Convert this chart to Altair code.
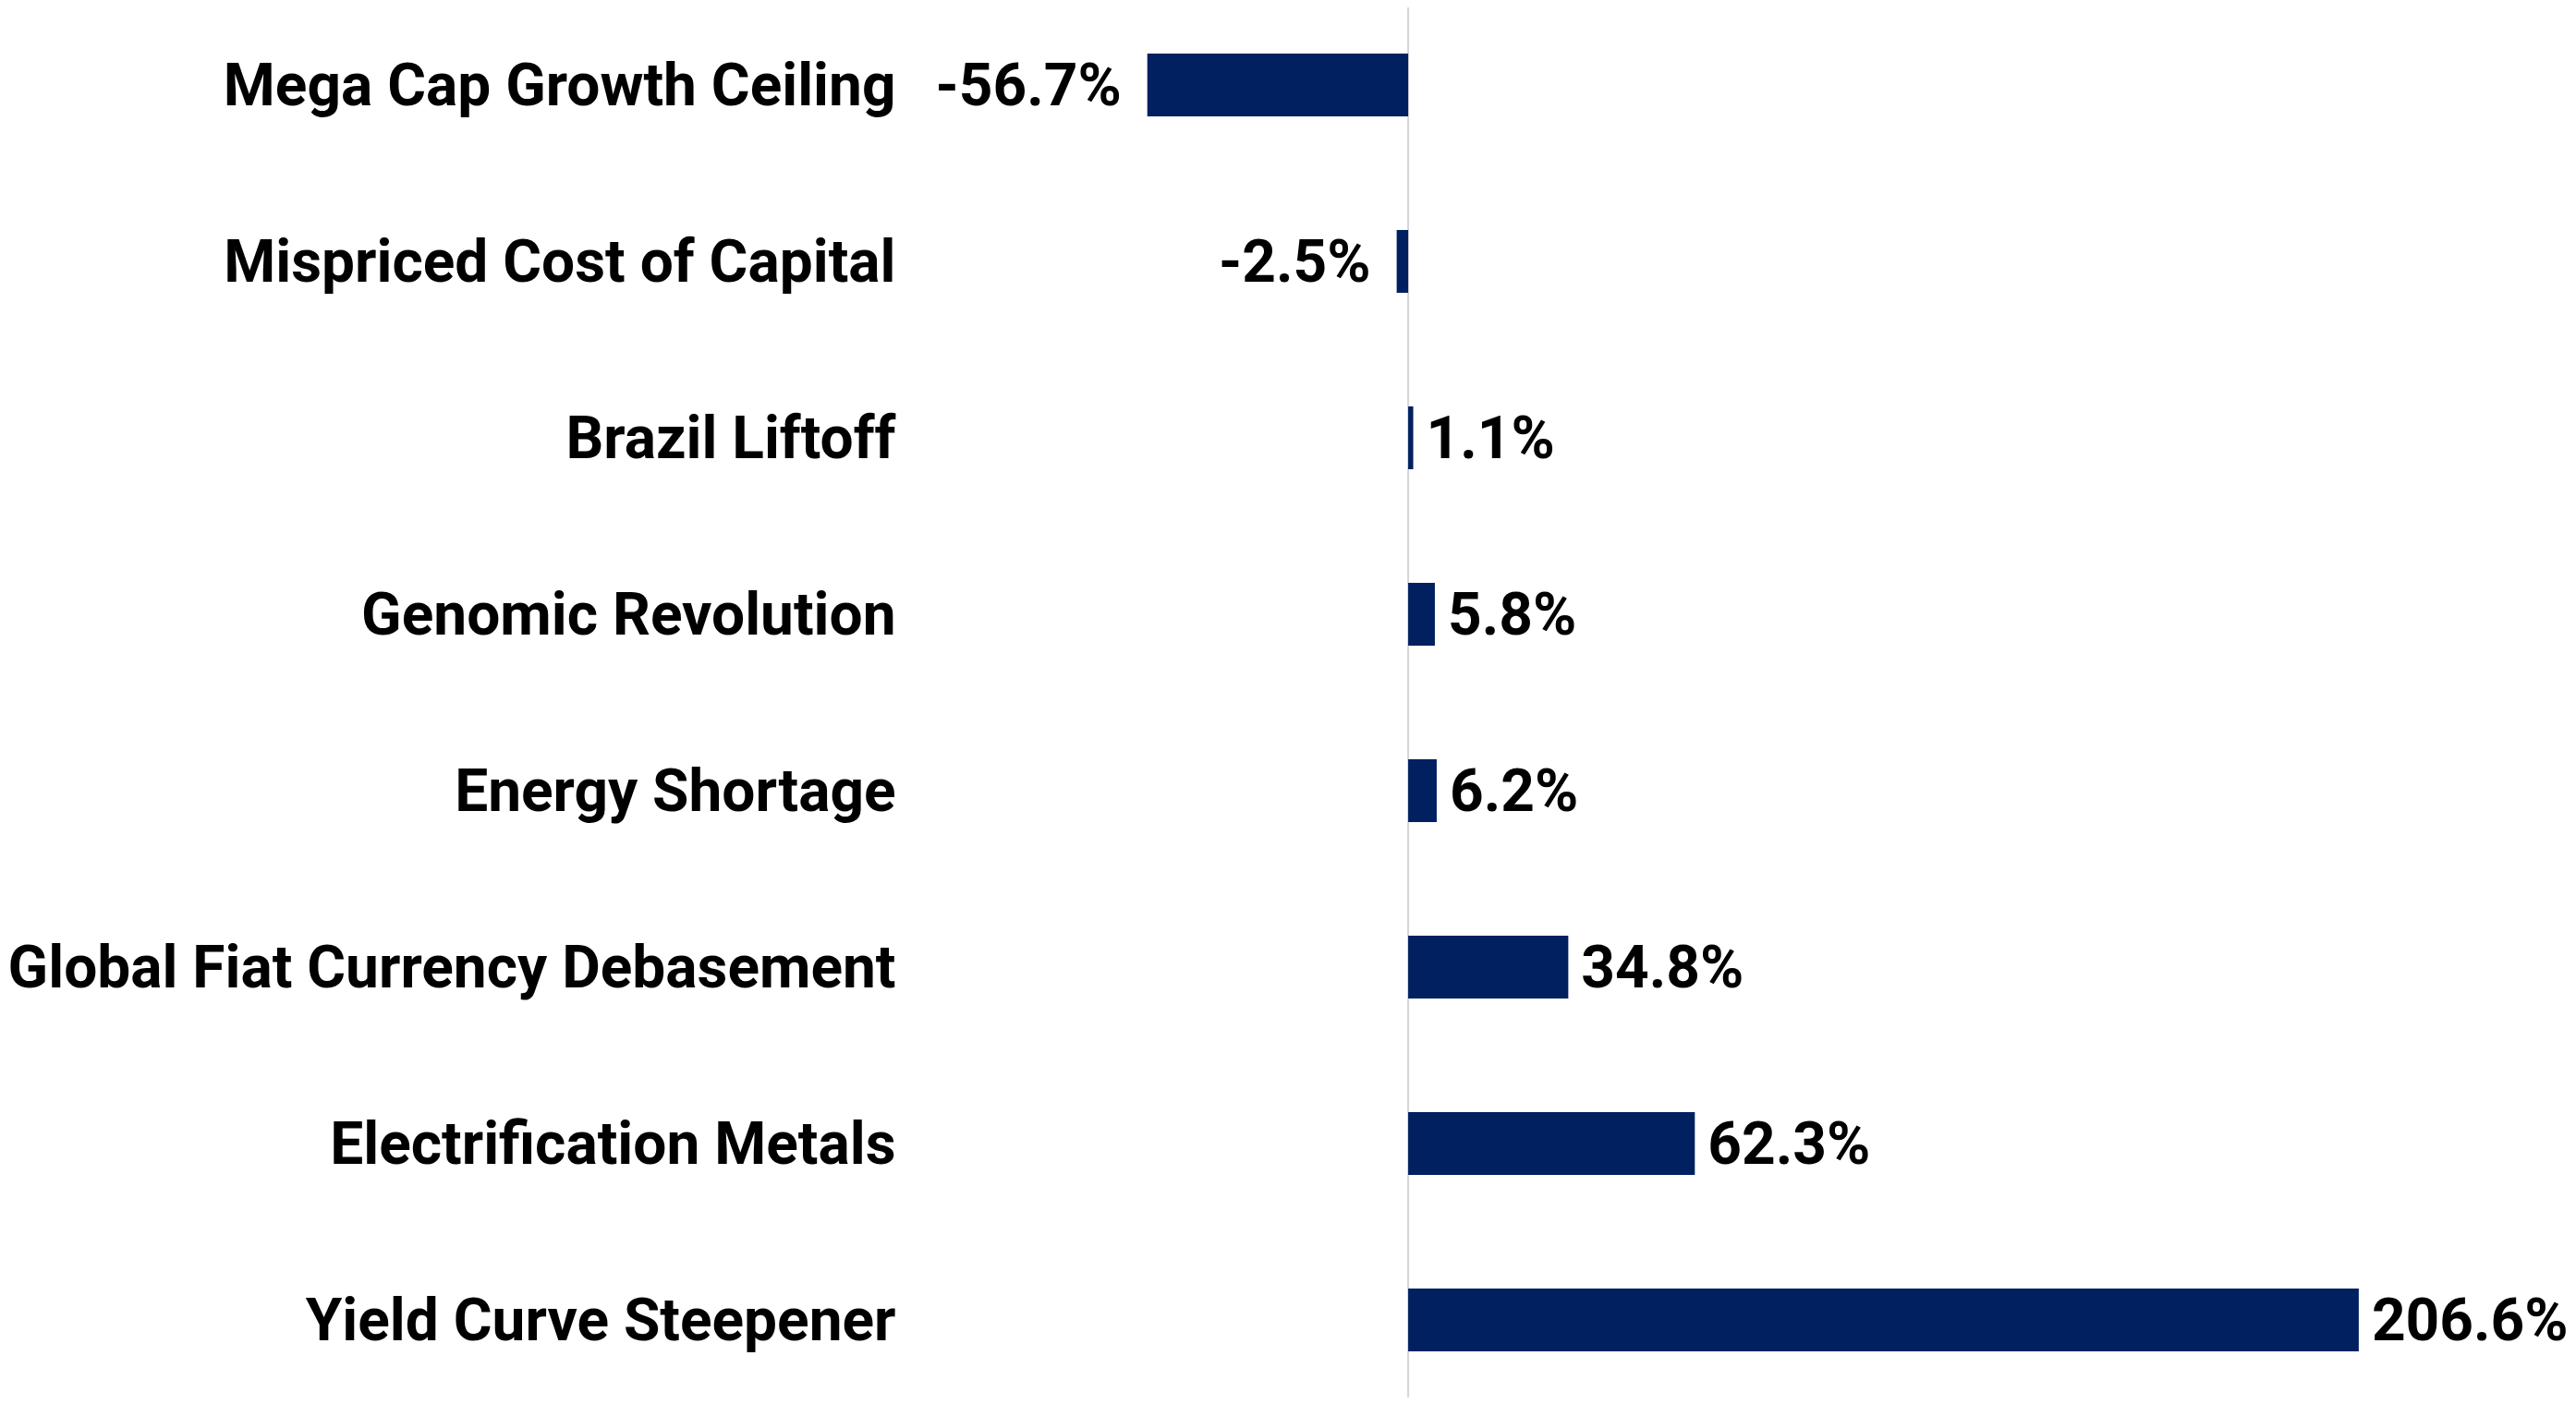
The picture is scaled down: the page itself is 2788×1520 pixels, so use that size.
import altair as alt
import pandas as pd

categories = [
    "Mega Cap Growth Ceiling",
    "Mispriced Cost of Capital",
    "Brazil Liftoff",
    "Genomic Revolution",
    "Energy Shortage",
    "Global Fiat Currency Debasement",
    "Electrification Metals",
    "Yield Curve Steepener",
]
values = [-56.7, -2.5, 1.1, 5.8, 6.2, 34.8, 62.3, 206.6]

df = pd.DataFrame({"category": categories, "value": values})

FONT = "Roboto"
NAVY = "#002060"
FS = 64

x_scale = alt.Scale(domain=[-95.2, 250.6], nice=False, zero=False)
y_enc = alt.Y(
    "category:N",
    sort=categories,
    scale=alt.Scale(paddingInner=0.644, paddingOuter=0.262),
    axis=alt.Axis(
        title=None, domain=False, ticks=False, grid=False,
        labelFont=FONT, labelFontSize=FS, labelFontWeight="bold",
        labelColor="#000000", labelPadding=81, labelLimit=0, labelOffset=3,
    ),
)

base = alt.Chart(df)

zero = alt.Chart(pd.DataFrame({"x": [0]})).mark_rule(
    color="#d6d6d6", strokeWidth=2
).encode(x=alt.X("x:Q", scale=x_scale, axis=None))

bars = base.mark_bar(color=NAVY).encode(
    x=alt.X("value:Q", scale=x_scale, axis=None),
    y=y_enc,
)

label_expr = "(datum.value < 0 ? '-' : '') + format(abs(datum.value), '.1f') + '%'"

neg_text = base.transform_filter("datum.value < 0").transform_calculate(
    label=label_expr
).mark_text(
    align="right", baseline="middle", dx=-28, dy=3, font=FONT, fontSize=FS,
    fontWeight="bold", color="#000000",
).encode(
    x=alt.X("value:Q", scale=x_scale, axis=None),
    y=y_enc,
    text="label:N",
)

pos_text = base.transform_filter("datum.value >= 0").transform_calculate(
    label=label_expr
).mark_text(
    align="left", baseline="middle", dx=14, dy=3, font=FONT, fontSize=FS,
    fontWeight="bold", color="#000000",
).encode(
    x=alt.X("value:Q", scale=x_scale, axis=None),
    y=y_enc,
    text="label:N",
)

chart = alt.layer(zero, bars, neg_text, pos_text).properties(
    width=1722,
    height=1505,
    autosize=alt.AutoSizeParams(type="none"),
    padding={"left": 1042, "top": 0, "right": 8, "bottom": 0},
    background="#ffffff",
).configure_view(stroke=None)

chart.save("out.html", embed_options={"renderer": "svg", "actions": False})
